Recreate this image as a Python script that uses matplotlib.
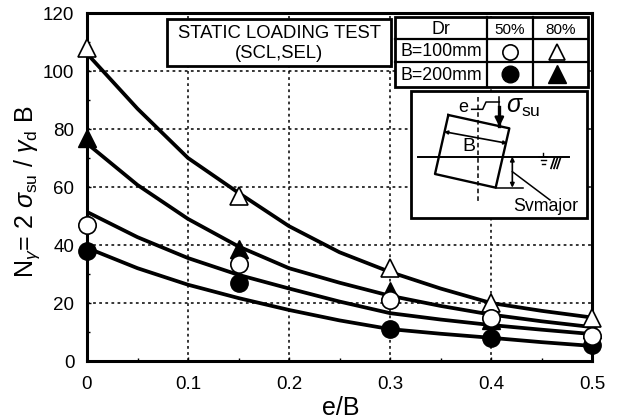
import matplotlib
matplotlib.use("Agg")
import matplotlib.pyplot as plt
from matplotlib.patches import Rectangle

plt.rcParams["font.family"] = ["Liberation Sans", "DejaVu Sans"]
plt.rcParams["mathtext.fontset"] = "custom"
plt.rcParams["mathtext.rm"] = "Liberation Sans"
plt.rcParams["mathtext.it"] = "Liberation Sans:italic"

# fitted curves
curve_x = [0, 0.05, 0.1, 0.15, 0.2, 0.25, 0.3, 0.35, 0.4, 0.45, 0.5]
curve_a = [106, 87, 70, 58, 46.5, 37.5, 30.7, 25, 20, 17.3, 15]
curve_b = [75, 60.7, 49, 39.5, 32, 27, 22.5, 19, 16, 13.7, 11.7]
curve_c = [51.4, 42.7, 35.5, 29.7, 25, 20.5, 16.5, 14.3, 12.4, 10.8, 9.3]
curve_d = [39, 32, 26.3, 21.7, 17.6, 14, 11, 9.4, 8, 6.5, 5.2]

# measured points
test_x = [0, 0.15, 0.3, 0.4, 0.5]
b100_dr80 = [108, 57, 32, 20, 15]
b200_dr80 = [77, 38.5, 24, 14, 11]
b100_dr50 = [47, 33.5, 21, 15, 8.5]
b200_dr50 = [38, 27, 11, 8, 5.5]

x_ticks = [0, 0.1, 0.2, 0.3, 0.4, 0.5]
x_labels = ["0", "0.1", "0.2", "0.3", "0.4", "0.5"]
y_ticks = [0, 20, 40, 60, 80, 100, 120]

W, H = 618, 420
fig = plt.figure(figsize=(W / 100, H / 100), dpi=100)
L, R, T, B = 87, 592, 13, 361
ax = fig.add_axes([L / W, 1 - B / H, (R - L) / W, (B - T) / H])

for y in [curve_a, curve_b, curve_c, curve_d]:
    ax.plot(curve_x, y, color="black", linewidth=2.7, zorder=3, solid_joinstyle="round")

ax.plot(test_x, b200_dr80, "^", color="black", markersize=13, clip_on=False, zorder=4)
ax.plot(test_x, b200_dr50, "o", color="black", markersize=12.5, clip_on=False, zorder=5)
ax.plot(test_x, b100_dr80, "^", mfc="white", mec="black", mew=1.2, markersize=12.5, clip_on=False, zorder=6)
ax.plot(test_x, b100_dr50, "o", mfc="white", mec="black", mew=1.2, markersize=12.5, clip_on=False, zorder=7)

ax.set_xlim(0, 0.5)
ax.set_ylim(0, 120)
ax.set_xticks(x_ticks)
ax.set_xticklabels(x_labels, fontsize=13.5)
ax.set_yticks(y_ticks)
ax.set_yticks(range(10, 120, 20), minor=True)
ax.set_xticks([0.05, 0.15, 0.25, 0.35, 0.45], minor=True)
ax.tick_params(axis="both", which="major", direction="in", length=3, width=1, labelsize=13.5)
ax.tick_params(axis="both", which="minor", direction="in", length=2, width=1)
ax.tick_params(axis="x", which="major", pad=11)
ax.tick_params(axis="y", which="major", pad=9)
ax.grid(True, which="major", color="black", linestyle=(0, (1.8, 2.2)), linewidth=1.1)
ax.set_axisbelow(True)
for s in ax.spines.values():
    s.set_linewidth(2.2)

fig.text(341 / W, 1 - 408 / H, "e/B", fontsize=18, ha="center", va="center")
fig.text(27 / W, 1 - 192 / H,
         r"N$_{\gamma}$= 2 $\sigma_{\mathrm{su}}$ / $\gamma_{\mathrm{d}}$ B",
         fontsize=18, rotation=90, ha="center", va="center")

# overlay in pixel coordinates for the boxes and the sketch
ov = fig.add_axes([0, 0, 1, 1], zorder=10)
ov.set_xlim(0, W)
ov.set_ylim(H, 0)
ov.axis("off")
ov.patch.set_alpha(0)


def box(x0, y0, x1, y1, lw=2):
    ov.add_patch(Rectangle((x0, y0), x1 - x0, y1 - y0, fc="white", ec="black", lw=lw))


# title box
box(167, 19, 391, 66)
ov.text(279, 33, "STATIC LOADING TEST", fontsize=13.3, ha="center", va="center")
ov.text(279, 53, "(SCL,SEL)", fontsize=13.3, ha="center", va="center")

# legend table
box(395, 17, 588, 87)
for yy in [39, 62]:
    ov.plot([395, 588], [yy, yy], color="black", lw=1.6)
for xx in [487, 533]:
    ov.plot([xx, xx], [17, 87], color="black", lw=1.6)
ov.text(441, 30, "Dr", fontsize=12.8, ha="center", va="center")
ov.text(510, 30, "50%", fontsize=11, ha="center", va="center")
ov.text(561, 30, "80%", fontsize=11, ha="center", va="center")
ov.text(441, 52, "B=100mm", fontsize=12.8, ha="center", va="center")
ov.text(441, 75, "B=200mm", fontsize=12.8, ha="center", va="center")
ov.plot(510, 52, "o", mfc="white", mec="black", mew=1.2, ms=11)
ov.plot(557, 52, "^", mfc="white", mec="black", mew=1.2, ms=12)
ov.plot(510, 74, "o", color="black", ms=12)
ov.plot(557, 74, "^", color="black", ms=13)

# inset sketch, coordinates taken from a 3x crop with its origin at (380, 0)
box(411, 91, 587, 218)


def px(x, y):
    return 380 + x / 3, y / 3


def seg(pts, lw=1.4, **kw):
    p = [px(*q) for q in pts]
    ov.plot([q[0] for q in p], [q[1] for q in p], color="black", lw=lw, **kw)


def arrow(a, b, style="-|>", lw=1.2, ms=7):
    ov.annotate("", xy=px(*b), xytext=px(*a),
                arrowprops=dict(arrowstyle=style, color="black", lw=lw, mutation_scale=ms,
                                shrinkA=0, shrinkB=0))


seg([(205, 345), (388, 385), (347, 563), (165, 522), (205, 345)], lw=1.7)
seg([(113, 470), (568, 470)], lw=1.4)
seg([(295, 290), (295, 610)], lw=1.1, linestyle=(0, (3, 2)))
seg([(275, 328), (308, 328), (318, 306), (358, 306)], lw=1.1)
seg([(358, 292), (358, 320)], lw=1.1)
seg([(358, 320), (358, 378)], lw=2.4)
arrow((358, 330), (358, 380), lw=1.8, ms=13)
arrow((192, 395), (382, 430), style="<|-|>", ms=5)
arrow((397, 470), (397, 563), style="<|-|>", ms=6)
seg([(347, 563), (430, 563)], lw=1.1)
seg([(397, 515), (510, 600)], lw=1.1)
# ground water mark
seg([(478, 470), (502, 470)], lw=1.1)
seg([(482, 481), (498, 481)], lw=1)
seg([(486, 491), (494, 491)], lw=1)
seg([(490, 458), (490, 468)], lw=1)
for hx in [513, 522, 531]:
    seg([(hx, 505), (hx + 10, 475)], lw=1.2)

ov.text(*px(250, 322), "e", fontsize=13, ha="center", va="center")
ov.text(*px(268, 440), "B", fontsize=14, ha="center", va="center")
ov.text(*px(430, 320), r"$\sigma_{\mathrm{su}}$", fontsize=18, ha="center", va="center")
ov.text(*px(497, 620), "Svmajor", fontsize=12.8, ha="center", va="center")

fig.savefig("out.png", dpi=100)
